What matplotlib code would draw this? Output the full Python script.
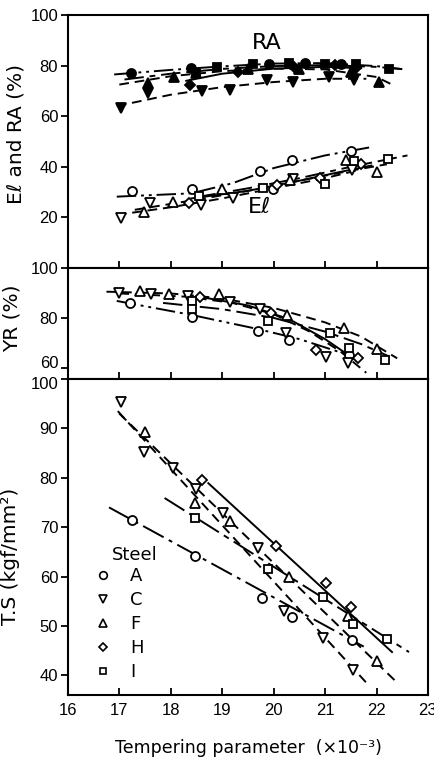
import matplotlib
matplotlib.use("Agg")
import matplotlib.pyplot as plt
import matplotlib.transforms as mtrans
from matplotlib.lines import Line2D

# ---------------- data ----------------
# Top panel: El (open markers) and RA (filled markers)
el_A_x = [17.25, 18.42, 19.74, 19.98, 20.35, 21.5]
el_A_y = [30.5, 31.1, 38.5, 31.1, 42.5, 46.4]
el_C_x = [17.04, 17.59, 18.58, 19.21, 20.38, 21.52]
el_C_y = [19.6, 25.5, 24.8, 27.5, 35.3, 38.9]
el_F_x = [17.48, 18.04, 19.0, 20.31, 21.4, 22.0]
el_F_y = [22.0, 26.2, 31.1, 34.6, 42.5, 37.9]
el_H_x = [18.36, 20.06, 20.9, 21.7]
el_H_y = [25.5, 32.7, 35.6, 41.2]
el_I_x = [18.55, 19.8, 21.0, 21.56, 22.23]
el_I_y = [28.5, 31.6, 33.3, 42.1, 43.1]

el_A_fx = [16.95, 18.4, 19.2, 20.0, 21.0, 21.9]
el_A_fy = [28.2, 29.5, 33.5, 39.5, 44.5, 47.8]
el_C_fx = [16.95, 18.0, 19.0, 20.0, 21.0, 21.7]
el_C_fy = [21.0, 24.0, 27.5, 31.5, 35.5, 39.0]
el_F_fx = [17.3, 18.5, 19.5, 20.5, 21.5, 22.2]
el_F_fy = [23.0, 27.0, 30.5, 34.5, 38.5, 41.0]
el_H_fx = [18.4, 19.5, 20.5, 21.3, 21.9]
el_H_fy = [27.5, 30.5, 34.5, 38.0, 40.5]
el_I_fx = [18.5, 19.5, 20.5, 21.5, 22.6]
el_I_fy = [28.0, 31.5, 35.5, 40.0, 44.5]

ra_A_x = [17.23, 18.4, 19.9, 20.6, 21.3]
ra_A_y = [77.1, 79.2, 80.5, 81.0, 80.5]
ra_C_x = [17.03, 17.56, 18.6, 19.16, 19.87, 20.38, 21.08, 21.56]
ra_C_y = [63.2, 69.0, 70.0, 70.3, 74.3, 73.6, 75.5, 74.3]
ra_F_x = [17.56, 18.07, 18.5, 19.5, 20.5, 21.5, 22.04]
ra_F_y = [73.0, 75.6, 77.2, 78.5, 78.5, 77.5, 73.5]
ra_H_x = [18.38, 19.3, 20.4, 21.2, 21.6]
ra_H_y = [72.4, 77.5, 79.5, 80.2, 79.0]
ra_I_x = [18.5, 18.9, 19.6, 20.3, 21.0, 21.6, 22.24]
ra_I_y = [77.0, 79.5, 80.8, 81.0, 80.5, 80.8, 78.8]

ra_A_fx = [16.9, 18.0, 19.0, 20.0, 21.0, 22.0, 22.5]
ra_A_fy = [76.5, 78.3, 79.7, 80.8, 81.0, 79.8, 78.6]
ra_C_fx = [16.95, 18.0, 19.0, 20.0, 21.0, 21.8]
ra_C_fy = [64.0, 68.5, 71.5, 73.5, 74.8, 74.8]
ra_F_fx = [17.0, 18.0, 19.0, 20.0, 21.0, 22.0, 22.3]
ra_F_fy = [72.5, 75.8, 77.8, 78.8, 78.5, 75.5, 72.5]
ra_H_fx = [18.3, 19.0, 20.0, 21.0, 21.7]
ra_H_fy = [74.0, 76.8, 78.8, 79.5, 79.0]
ra_I_fx = [17.1, 18.0, 19.0, 20.0, 21.0, 22.0, 22.5]
ra_I_fy = [74.5, 76.8, 78.7, 79.8, 80.2, 79.5, 78.6]

# Middle panel: YR
yr_A_x = [17.2, 18.42, 19.7, 20.3, 21.46]
yr_A_y = [85.9, 80.5, 74.9, 71.2, 65.0]
yr_C_x = [17.0, 17.61, 18.33, 19.15, 19.74, 20.24, 21.01, 21.45]
yr_C_y = [89.9, 89.5, 88.8, 86.5, 83.5, 74.1, 64.5, 61.9]
yr_F_x = [17.4, 17.96, 18.93, 20.26, 21.37, 22.0]
yr_F_y = [90.8, 89.5, 89.5, 81.2, 75.9, 67.5]
yr_H_x = [18.56, 19.95, 20.82, 21.63]
yr_H_y = [88.5, 81.9, 67.2, 63.9]
yr_I_x = [18.42, 18.42, 19.89, 21.1, 21.46, 22.17]
yr_I_y = [86.6, 83.6, 78.6, 74.1, 67.9, 63.2]

yr_A_fx = [16.95, 18.4, 19.7, 20.5, 21.7]
yr_A_fy = [86.8, 81.2, 75.5, 71.5, 63.5]
yr_C_fx = [17.0, 18.3, 19.2, 20.0, 20.7, 21.3, 21.8]
yr_C_fy = [89.8, 88.5, 86.0, 81.5, 74.5, 66.5, 58.0]
yr_F_fx = [16.75, 18.0, 19.0, 20.0, 21.0, 21.7, 22.4]
yr_F_fy = [90.5, 89.8, 87.8, 84.0, 78.2, 72.5, 63.8]
yr_H_fx = [18.55, 19.5, 20.3, 21.0, 21.6]
yr_H_fy = [88.5, 85.0, 79.5, 71.5, 63.0]
yr_I_fx = [17.85, 19.0, 20.0, 21.0, 21.7, 22.25]
yr_I_fy = [86.0, 83.5, 80.0, 74.5, 69.5, 64.5]

# Bottom panel: T.S
ts_A_x = [17.25, 18.48, 19.77, 20.35, 21.52]
ts_A_y = [71.5, 64.1, 55.7, 51.8, 47.1]
ts_C_x = [17.04, 17.48, 18.05, 18.5, 19.02, 19.7, 20.2, 20.96, 21.54]
ts_C_y = [95.3, 85.2, 81.9, 77.7, 72.8, 65.7, 53.0, 47.6, 41.1]
ts_F_x = [17.5, 18.48, 19.15, 20.3, 21.44, 22.0]
ts_F_y = [89.2, 74.8, 71.3, 59.9, 52.0, 42.9]
ts_H_x = [18.6, 20.04, 21.02, 21.5]
ts_H_y = [79.5, 66.2, 58.7, 53.8]
ts_I_x = [18.48, 19.88, 20.96, 21.54, 22.21]
ts_I_y = [71.8, 61.5, 55.9, 50.4, 47.4]

ts_A_fx = [16.8, 21.75]
ts_A_fy = [74.0, 45.8]
ts_C_fx = [16.97, 21.8]
ts_C_fy = [93.5, 38.5]
ts_F_fx = [17.0, 22.4]
ts_F_fy = [93.0, 38.5]
ts_H_fx = [18.73, 22.3]
ts_H_fy = [78.9, 44.7]
ts_I_fx = [17.88, 22.63]
ts_I_fy = [75.9, 44.7]

steels = ["A", "C", "F", "H", "I"]
xticks = [16, 17, 18, 19, 20, 21, 22, 23]

# ---------------- style ----------------
marker = {"A": "o", "C": "v", "F": "^", "H": "D", "I": "s"}
msize = {"A": 6.5, "C": 7, "F": 7, "H": 5.5, "I": 6}
ls_bottom = {"A": (0, (12, 3, 2, 3)), "C": (0, (5, 3)), "F": (0, (5, 3)),
             "H": "-", "I": (0, (12, 3, 3, 3))}
ls_top = {"A": (0, (10, 2.5, 1.5, 2.5, 1.5, 2.5)), "C": (0, (5, 3)), "F": (0, (5, 3)),
          "H": "-", "I": (0, (10, 3, 3, 3))}

tickfont = ["Liberation Sans", "DejaVu Sans"]
plt.rcParams["font.family"] = ["DejaVu Sans"]

fig = plt.figure(figsize=(4.35, 7.62), dpi=100)
L, W = 0.156, 0.828
ax1 = fig.add_axes([L, 0.6483, W, 0.332])
ax2 = fig.add_axes([L, 0.5026, W, 0.1457])
ax3 = fig.add_axes([L, 0.0879, W, 0.4147])

def draw(ax, data, fits, styles, filled):
    for s in steels:
        fx, fy = fits[s]
        ax.plot(fx, fy, color="black", lw=1.4, linestyle=styles[s], zorder=2)
    for s in steels:
        x, y = data[s]
        ax.plot(x, y, linestyle="none", marker=marker[s], ms=msize[s],
                mfc="black" if filled else "white", mec="black", mew=1.3, zorder=3)

draw(ax1,
     {"A": (el_A_x, el_A_y), "C": (el_C_x, el_C_y), "F": (el_F_x, el_F_y),
      "H": (el_H_x, el_H_y), "I": (el_I_x, el_I_y)},
     {"A": (el_A_fx, el_A_fy), "C": (el_C_fx, el_C_fy), "F": (el_F_fx, el_F_fy),
      "H": (el_H_fx, el_H_fy), "I": (el_I_fx, el_I_fy)}, ls_top, False)
draw(ax1,
     {"A": (ra_A_x, ra_A_y), "C": (ra_C_x, ra_C_y), "F": (ra_F_x, ra_F_y),
      "H": (ra_H_x, ra_H_y), "I": (ra_I_x, ra_I_y)},
     {"A": (ra_A_fx, ra_A_fy), "C": (ra_C_fx, ra_C_fy), "F": (ra_F_fx, ra_F_fy),
      "H": (ra_H_fx, ra_H_fy), "I": (ra_I_fx, ra_I_fy)}, ls_top, True)
draw(ax2,
     {"A": (yr_A_x, yr_A_y), "C": (yr_C_x, yr_C_y), "F": (yr_F_x, yr_F_y),
      "H": (yr_H_x, yr_H_y), "I": (yr_I_x, yr_I_y)},
     {"A": (yr_A_fx, yr_A_fy), "C": (yr_C_fx, yr_C_fy), "F": (yr_F_fx, yr_F_fy),
      "H": (yr_H_fx, yr_H_fy), "I": (yr_I_fx, yr_I_fy)}, ls_top, False)
draw(ax3,
     {"A": (ts_A_x, ts_A_y), "C": (ts_C_x, ts_C_y), "F": (ts_F_x, ts_F_y),
      "H": (ts_H_x, ts_H_y), "I": (ts_I_x, ts_I_y)},
     {"A": (ts_A_fx, ts_A_fy), "C": (ts_C_fx, ts_C_fy), "F": (ts_F_fx, ts_F_fy),
      "H": (ts_H_fx, ts_H_fy), "I": (ts_I_fx, ts_I_fy)}, ls_bottom, False)

ax1.set_ylim(0, 100)
ax1.set_yticks([20, 40, 60, 80, 100])
ax2.set_ylim(55.5, 100)
ax2.set_yticks([60, 80, 100])
ax3.set_ylim(36, 100)
ax3.set_yticks([40, 50, 60, 70, 80, 90, 100])

for ax in (ax1, ax2, ax3):
    ax.set_xlim(16, 23)
    ax.set_xticks(xticks)
    for sp in ax.spines.values():
        sp.set_linewidth(1.5)
    ax.tick_params(axis="x", direction="in", length=5, width=1.3, top=False)
    ax.tick_params(axis="y", direction="out", length=5, width=1.3, labelsize=12, pad=2)
    for lab in ax.get_yticklabels():
        lab.set_family(tickfont)
ax1.tick_params(axis="x", labelbottom=False)
ax2.tick_params(axis="x", labelbottom=False)
ax3.tick_params(axis="x", labelsize=12, pad=6)
xlabs = ax3.get_xticklabels()
for lab in xlabs:
    lab.set_family(tickfont)
# last x label sits at the right edge, as in the reference; keep it inside
xlabs[-1].set_horizontalalignment("right")
xlabs[-1].set_transform(xlabs[-1].get_transform() +
                        mtrans.ScaledTranslation(6 / 72, 0, fig.dpi_scale_trans))

# nudge the touching "60" (YR) and "100" (T.S) labels apart slightly
ylabs2 = ax2.get_yticklabels()
ylabs2[0].set_transform(ylabs2[0].get_transform() +
                        mtrans.ScaledTranslation(0, 4 / 72, fig.dpi_scale_trans))
ylabs3 = ax3.get_yticklabels()
ylabs3[-1].set_transform(ylabs3[-1].get_transform() +
                         mtrans.ScaledTranslation(0, -3 / 72, fig.dpi_scale_trans))

ax1.text(19.87, 89, "RA", fontsize=16, ha="center", va="center")
ax1.text(19.73, 24.3, "Eℓ", fontsize=16, ha="center", va="center")

ax1.set_ylabel("Eℓ and RA (%)", fontsize=14.5)
ax1.yaxis.set_label_coords(-0.117, 0.53)
ax2.set_ylabel("YR (%)", fontsize=14.5)
ax2.yaxis.set_label_coords(-0.128, 0.55)
ax3.set_ylabel("T.S (kgf/mm²)", fontsize=14.5)
ax3.yaxis.set_label_coords(-0.133, 0.44)
ax3.set_xlabel("Tempering parameter  (×10⁻³)", fontsize=12.5, labelpad=15)

ax3.text(17.3, 64.3, "Steel", fontsize=13, ha="center", va="center")
handles = [Line2D([], [], linestyle="none", marker=marker[s], ms=msize[s] - 1,
                  mfc="white", mec="black", mew=1.2) for s in steels]
leg = ax3.legend(handles, steels, loc="upper left",
                 bbox_to_anchor=(0.062, 0.415), frameon=False, fontsize=13,
                 handlelength=1.0, handletextpad=1.0,
                 labelspacing=0.33, borderpad=0.2, borderaxespad=0)

fig.savefig("out.png", dpi=100)
